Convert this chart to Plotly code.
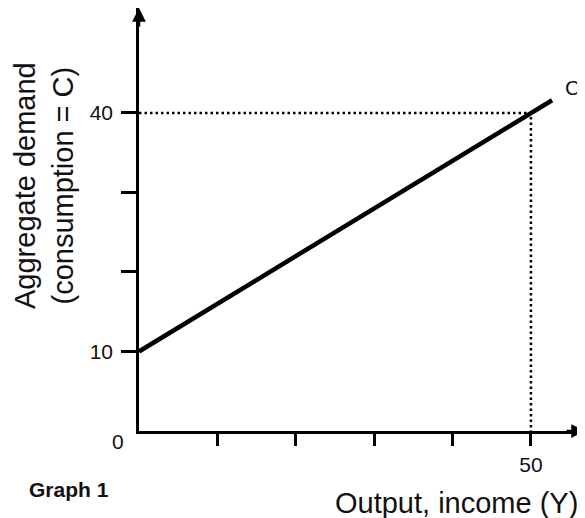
import plotly.graph_objects as go

# Data
output_y = [0, 52.7]          # Output, income (Y)
consumption_c = [10, 41.6]    # Aggregate demand (C)
equil_y = 50
equil_c = 40
x_tickvals = [10, 20, 30, 40, 50]
x_ticktext = ["", "", "", "", "50"]
y_tickvals = [10, 20, 30, 40]
y_ticktext = ["10", "", "", "40"]

FONT = "Liberation Sans, Arial, sans-serif"
# page body has an 8px margin, so the figure is 8px smaller than the window
W, H = 577, 510
L, R, T, B = 131, 0, 0, 87
x_max = 56.9
y_max = 53.2

fig = go.Figure()

# dotted guide lines
fig.add_trace(go.Scatter(
    x=[0, equil_y, equil_y], y=[equil_c, equil_c, 0],
    mode="lines", line=dict(color="black", width=2.5, dash="2.5px,3px"),
    hoverinfo="skip", showlegend=False, cliponaxis=False))

# consumption line
fig.add_trace(go.Scatter(
    x=output_y, y=consumption_c, mode="lines",
    line=dict(color="black", width=4.5),
    showlegend=False, cliponaxis=False))

annotations = [
    # axis arrowheads
    dict(x=x_max, y=0, xref="x", yref="y", ax=-20, ay=0, text="",
         showarrow=True, arrowhead=2, arrowsize=1.1, arrowwidth=2.5, arrowcolor="black"),
    dict(x=0, y=y_max, xref="x", yref="y", ax=0, ay=20, text="",
         showarrow=True, arrowhead=2, arrowsize=1.1, arrowwidth=2.5, arrowcolor="black"),
    # C label
    dict(x=output_y[-1], y=consumption_c[-1], xref="x", yref="y", text="C",
         showarrow=False, xshift=20, yshift=13,
         font=dict(family=FONT, size=21, color="#111")),
    # origin label
    dict(x=0, y=0, xref="x", yref="y", text="0", showarrow=False,
         xshift=-21, yshift=-10, font=dict(family=FONT, size=21, color="#111")),
    # y title
    dict(x=0, y=(423 - 178) / 423, xref="paper", yref="paper",
         text="Aggregate demand<br>(consumption = C)", textangle=-90,
         showarrow=False, xanchor="center", yanchor="middle", xshift=-95,
         font=dict(family=FONT, size=29, color="#111")),
    # x title
    dict(x=1, y=0, xref="paper", yref="paper", text="Output, income (Y)",
         showarrow=False, xanchor="right", yanchor="middle", xshift=-5, yshift=-72,
         font=dict(family=FONT, size=29, color="#111")),
    # Graph 1
    dict(x=0, y=0, xref="paper", yref="paper", text="<b>Graph 1</b>",
         showarrow=False, xanchor="left", yanchor="middle", xshift=-112, yshift=-58,
         font=dict(family=FONT, size=21, color="#111")),
]

fig.update_layout(
    width=W, height=H,
    margin=dict(l=L, r=R, t=T, b=B),
    paper_bgcolor="white", plot_bgcolor="white",
    annotations=annotations,
    showlegend=False,
    xaxis=dict(range=[0, x_max], showgrid=False, zeroline=False,
               showline=True, linecolor="black", linewidth=2.5,
               ticks="outside", ticklen=12, tickwidth=2.5, tickcolor="black",
               tickvals=x_tickvals, ticktext=x_ticktext,
               ticklabelstandoff=1,
               tickfont=dict(family=FONT, size=21, color="#111")),
    yaxis=dict(range=[0, y_max], showgrid=False, zeroline=False,
               showline=True, linecolor="black", linewidth=2.5,
               ticks="outside", ticklen=15, tickwidth=2.5, tickcolor="black",
               tickvals=y_tickvals, ticktext=y_ticktext,
               ticklabelstandoff=4,
               tickfont=dict(family=FONT, size=21, color="#111")),
)

fig.write_html("out.html")
